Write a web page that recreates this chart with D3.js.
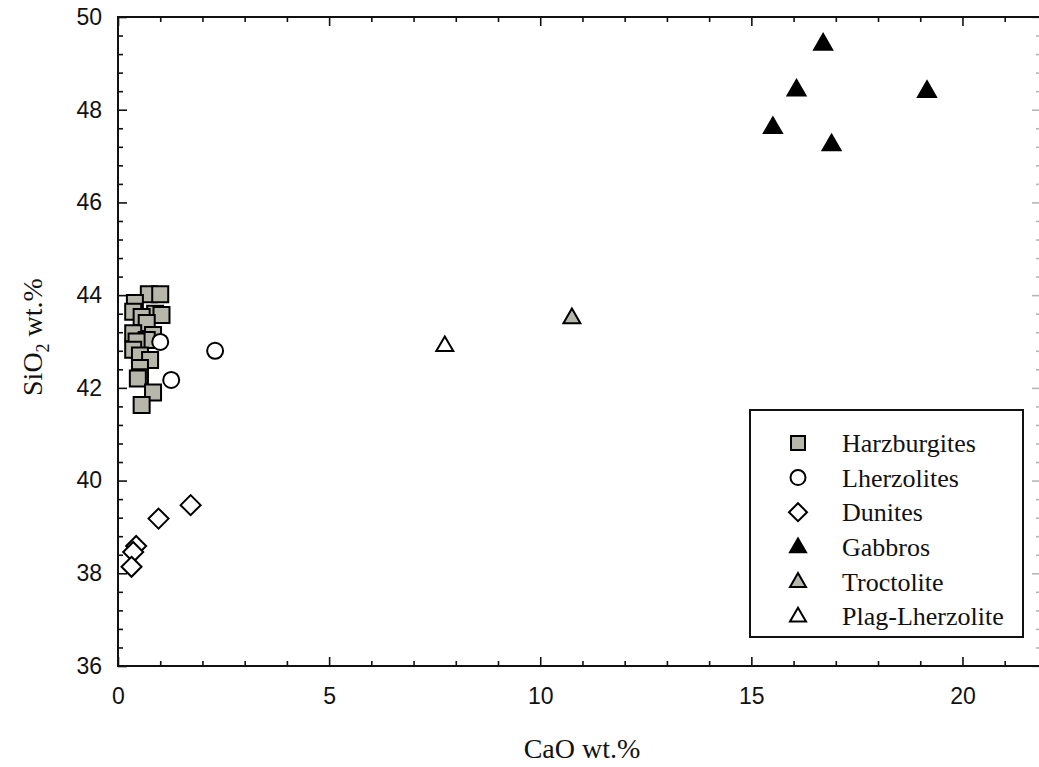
<!DOCTYPE html>
<html>
<head>
<meta charset="utf-8">
<script src="https://cdn.jsdelivr.net/npm/d3@7"></script>
<style>
    body { margin: 0; background: #fff; }
    svg { display: block; }
    .tick-label { font-family: "Liberation Sans", Arial, sans-serif; font-size: 23px; fill: #111; }
    .title { font-family: "Liberation Serif", "Times New Roman", serif; font-size: 28px; fill: #111; }
    .legend-text { font-family: "Liberation Serif", "Times New Roman", serif; font-size: 26px; fill: #111; }
</style>
</head>
<body>
<div id="chart"></div>
<script>
// CaO / SiO2 values per rock type
const harzCaO  = [0.73, 1.00, 0.40, 0.36, 0.88, 1.03, 0.56, 0.68, 0.36, 0.83, 0.68, 0.44, 0.36, 0.52, 0.76, 0.52, 0.52, 0.47, 0.83, 0.56];
const harzSiO2 = [44.02, 44.02, 43.83, 43.64, 43.60, 43.57, 43.53, 43.40, 43.18, 43.14, 43.03, 43.00, 42.82, 42.70, 42.60, 42.43, 42.23, 42.20, 41.90, 41.63];

const lherzCaO  = [1.00, 2.30, 1.26];
const lherzSiO2 = [42.99, 42.80, 42.17];

const duniteCaO  = [1.72, 0.96, 0.43, 0.36, 0.32];
const duniteSiO2 = [39.47, 39.18, 38.59, 38.46, 38.14];

const gabbroCaO  = [16.70, 16.07, 19.16, 15.51, 16.90];
const gabbroSiO2 = [49.43, 48.44, 48.41, 47.63, 47.26];

const troctCaO  = [10.75];
const troctSiO2 = [43.52];

const plagCaO  = [7.74];
const plagSiO2 = [42.92];

const xMajor = [0, 5, 10, 15, 20];
const yMajor = [36, 38, 40, 42, 44, 46, 48, 50];

const seriesNames = ["Harzburgites", "Lherzolites", "Dunites", "Gabbros", "Troctolite", "Plag-Lherzolite"];

const width = 1039, height = 767;
const margin = { left: 118, right: 1041, top: 17, bottom: 666 };
const grey = "#b6b7aa";

const svg = d3.select("#chart").append("svg")
    .attr("width", width)
    .attr("height", height);

const x = d3.scaleLinear().domain([0, 21.86]).range([margin.left, margin.right]);
const y = d3.scaleLinear().domain([36, 50]).range([margin.bottom, margin.top]);

// forme des symboles (taille = largeur en px)
function shapePath(shape, s) {
    const h = s / 2;
    if (shape === "square") return `M${-h},${-h}H${h}V${h}H${-h}Z`;
    if (shape === "diamond") return `M0,${-h}L${h},0L0,${h}L${-h},0Z`;
    if (shape === "triangle") {
        const th = s * Math.sqrt(3) / 2;
        return `M0,${-th * 0.6}L${h},${th * 0.4}L${-h},${th * 0.4}Z`;
    }
    return d3.arc()({ innerRadius: 0, outerRadius: h, startAngle: 0, endAngle: 2 * Math.PI });
}

const series = [
    { name: seriesNames[0], cao: harzCaO,   sio2: harzSiO2,   shape: "square",   fill: grey,   size: 16, lsize: 14 },
    { name: seriesNames[1], cao: lherzCaO,  sio2: lherzSiO2,  shape: "circle",   fill: "#fff", size: 16, lsize: 15 },
    { name: seriesNames[2], cao: duniteCaO, sio2: duniteSiO2, shape: "diamond",  fill: "#fff", size: 20, lsize: 18 },
    { name: seriesNames[3], cao: gabbroCaO, sio2: gabbroSiO2, shape: "triangle", fill: "#000", size: 18, lsize: 16 },
    { name: seriesNames[4], cao: troctCaO,  sio2: troctSiO2,  shape: "triangle", fill: grey,   size: 17, lsize: 16 },
    { name: seriesNames[5], cao: plagCaO,   sio2: plagSiO2,   shape: "triangle", fill: "#fff", size: 17, lsize: 16 }
];

// axes : graduations vers l'interieur
const xMinor = d3.range(0, 22, 1).filter(v => !xMajor.includes(v));
const yMinor = d3.range(36, 50.01, 0.4).map(v => +v.toFixed(1)).filter(v => !yMajor.includes(v));

const axisStyle = g => {
    g.select(".domain").remove();
    g.selectAll(".tick line").attr("stroke", "#111").attr("stroke-width", 1.6);
};
const labelStyle = g => g.selectAll("text")
    .attr("class", "tick-label").attr("font-family", null).attr("font-size", null).attr("fill", null);
// l'axe droit est coupe par le bord de l'image : graduations a peine visibles
const faint = g => g.selectAll(".tick line").attr("stroke-opacity", 0.3);

svg.append("g").attr("transform", `translate(0,${margin.bottom})`)
    .call(d3.axisBottom(x).tickValues(xMajor).tickSize(-9).tickPadding(22).tickFormat(d3.format("d")))
    .call(axisStyle).call(labelStyle);
svg.append("g").attr("transform", `translate(0,${margin.bottom})`)
    .call(d3.axisBottom(x).tickValues(xMinor).tickSize(-5).tickFormat(""))
    .call(axisStyle);
svg.append("g").attr("transform", `translate(0,${margin.top})`)
    .call(d3.axisTop(x).tickValues(xMajor).tickSize(-9).tickFormat(""))
    .call(axisStyle);
svg.append("g").attr("transform", `translate(0,${margin.top})`)
    .call(d3.axisTop(x).tickValues(xMinor).tickSize(-5).tickFormat(""))
    .call(axisStyle);

svg.append("g").attr("transform", `translate(${margin.left},0)`)
    .call(d3.axisLeft(y).tickValues(yMajor).tickSize(-9).tickPadding(16).tickFormat(d3.format("d")))
    .call(axisStyle).call(labelStyle);
svg.append("g").attr("transform", `translate(${margin.left},0)`)
    .call(d3.axisLeft(y).tickValues(yMinor).tickSize(-5).tickFormat(""))
    .call(axisStyle);
svg.append("g").attr("transform", `translate(${margin.right},0)`)
    .call(d3.axisRight(y).tickValues(yMajor).tickSize(-9).tickFormat(""))
    .call(axisStyle).call(faint);
svg.append("g").attr("transform", `translate(${margin.right},0)`)
    .call(d3.axisRight(y).tickValues(yMinor).tickSize(-5).tickFormat(""))
    .call(axisStyle).call(faint);

// cadre
svg.append("rect")
    .attr("x", margin.left).attr("y", margin.top)
    .attr("width", margin.right - margin.left).attr("height", margin.bottom - margin.top)
    .attr("fill", "none").attr("stroke", "#111").attr("stroke-width", 2);

// points
series.forEach(s => {
    svg.append("g").selectAll("path")
        .data(s.cao.map((c, i) => [c, s.sio2[i]]))
        .join("path")
        .attr("transform", d => `translate(${x(d[0])},${y(d[1])})`)
        .attr("d", shapePath(s.shape, s.size))
        .attr("fill", s.fill)
        .attr("stroke", "#000")
        .attr("stroke-width", 2)
        .attr("stroke-linejoin", "miter");
});

// titres des axes
svg.append("text")
    .attr("class", "title")
    .attr("x", 582).attr("y", 758)
    .attr("text-anchor", "middle")
    .text("CaO wt.%");

const yTitle = svg.append("text")
    .attr("class", "title")
    .attr("text-anchor", "middle")
    .attr("transform", "translate(42,337) rotate(-90)");
yTitle.append("tspan").text("SiO");
yTitle.append("tspan").attr("font-size", "18px").attr("dy", 7).text("2");
yTitle.append("tspan").attr("dy", -7).text(" wt.%");

// legende
const legend = svg.append("g");
legend.append("rect")
    .attr("x", 750).attr("y", 410)
    .attr("width", 273).attr("height", 227)
    .attr("fill", "#fff").attr("stroke", "#111").attr("stroke-width", 2);

const rows = legend.selectAll("g.row")
    .data(series)
    .join("g")
    .attr("class", "row")
    .attr("transform", (d, i) => `translate(798,${443 + i * 34.6})`);

rows.append("path")
    .attr("d", d => shapePath(d.shape, d.lsize))
    .attr("fill", d => d.fill)
    .attr("stroke", "#000")
    .attr("stroke-width", 2);

rows.append("text")
    .attr("class", "legend-text")
    .attr("x", 44)
    .attr("dy", "0.35em")
    .text(d => d.name);
</script>
</body>
</html>
